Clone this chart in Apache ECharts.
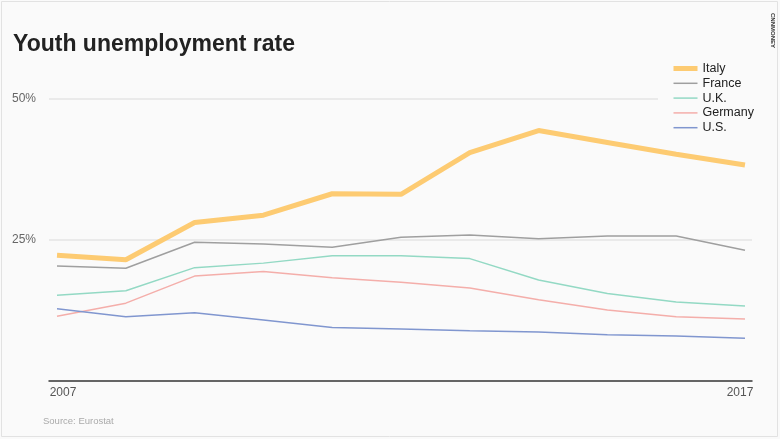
<!DOCTYPE html>
<html>
<head>
<meta charset="utf-8">
<script src="https://cdn.jsdelivr.net/npm/echarts@6/dist/echarts.min.js"></script>
<style>
html,body{margin:0;padding:0;background:#fafafa;}
#chart{width:780px;height:439px;}
</style>
</head>
<body>
<div id="chart"></div>
<script>
const years = [2007, 2008, 2009, 2010, 2011, 2012, 2013, 2014, 2015, 2016, 2017];
const italy   = [22.3, 21.5, 28.1, 29.4, 33.2, 33.1, 40.5, 44.4, 42.3, 40.2, 38.3];
const france  = [20.4, 20.0, 24.6, 24.3, 23.7, 25.5, 25.9, 25.2, 25.7, 25.7, 23.2];
const uk      = [15.2, 16.0, 20.1, 20.9, 22.2, 22.2, 21.7, 17.9, 15.5, 14.0, 13.3];
const germany = [11.5, 13.8, 18.6, 19.4, 18.3, 17.5, 16.5, 14.4, 12.6, 11.4, 11.0];
const us      = [12.8, 11.4, 12.1, 10.8, 9.5, 9.2, 8.9, 8.7, 8.2, 8.0, 7.6];
const yTicks = [0, 25, 50];
const xLabelYears = [2007, 2017];
const seriesNames = ['Italy', 'France', 'U.K.', 'Germany', 'U.S.'];

const pair = arr => years.map((y, i) => [y, arr[i]]);
const font = 'Liberation Sans';

const chart = echarts.init(document.getElementById('chart'), null, {renderer: 'canvas'});
function line(name, data, color, width, z) {
  return {
    name, type: 'line', data: pair(data), symbol: 'none', showSymbol: false,
    lineStyle: {color, width}, itemStyle: {color}, z, animation: false
  };
}
const widths = {'Italy': 5, 'France': 1.5, 'U.K.': 1.5, 'Germany': 1.5, 'U.S.': 1.5};
chart.setOption({
  backgroundColor: '#fafafa',
  animation: false,
  graphic: [
    {type: 'rect', shape: {x: 1.5, y: 1.5, width: 776, height: 435}, style: {fill: 'none', stroke: '#e2e2e2', lineWidth: 1}, z: -1, silent: true},
    {type: 'text', x: 773, y: 13, rotation: -Math.PI / 2,
     style: {text: 'CNNMONEY', font: 'bold 6px ' + font, fill: '#333', textVerticalAlign: 'middle', textAlign: 'left'}}
  ],
  title: [
    {text: 'Youth unemployment rate', left: 8, top: 28,
     textStyle: {fontFamily: font, fontWeight: 'bold', fontSize: 23, color: '#222'}},
    {text: 'Source: Eurostat', left: 38, top: 411,
     textStyle: {fontFamily: font, fontWeight: 'normal', fontSize: 9.5, color: '#aaa'}}
  ],
  legend: {
    orient: 'vertical', left: 658, top: 54, padding: [8, 8, 8, 13],
    backgroundColor: '#fafafa',
    itemWidth: 24, itemHeight: 14, itemGap: 1.8,
    itemStyle: {opacity: 0},
    textStyle: {fontFamily: font, fontSize: 12.5, color: '#222'},
    data: seriesNames.map(n => ({name: n, lineStyle: {width: widths[n]}}))
  },
  grid: {left: 49, right: 28, top: 99, bottom: 58},
  xAxis: {
    type: 'value', min: 2006.8836, max: 2017.102,
    axisLine: {show: true, lineStyle: {color: '#3a3a3a', width: 1.5}},
    axisTick: {show: false},
    splitLine: {show: false},
    axisLabel: {
      customValues: xLabelYears, margin: 6,
      fontFamily: font, fontSize: 12, color: '#555',
      formatter: v => (v === 2007 ? '{a|' + v + '}' : '{b|' + v + '}'),
      rich: {
        a: {padding: [0, 0, 0, 12], fontFamily: font, fontSize: 12, color: '#555'},
        b: {padding: [0, 10, 0, 0], fontFamily: font, fontSize: 12, color: '#555'}
      }
    }
  },
  yAxis: {
    type: 'value', min: 0, max: 50, interval: 25,
    axisLine: {show: false}, axisTick: {show: false},
    splitLine: {show: true, lineStyle: {color: '#e4e4e4', width: 1.5}},
    axisLabel: {
      margin: 37, align: 'left',
      fontFamily: font, fontSize: 12, color: '#666',
      formatter: v => (yTicks.includes(v) && v !== 0 ? v + '%' : '')
    }
  },
  series: [
    line('Italy', italy, '#fdcb72', widths['Italy'], 10),
    line('France', france, '#9f9f9f', widths['France'], 5),
    line('U.K.', uk, '#93d9c4', widths['U.K.'], 4),
    line('Germany', germany, '#f4aeaa', widths['Germany'], 3),
    line('U.S.', us, '#8096cf', widths['U.S.'], 6)
  ]
});
</script>
</body>
</html>
